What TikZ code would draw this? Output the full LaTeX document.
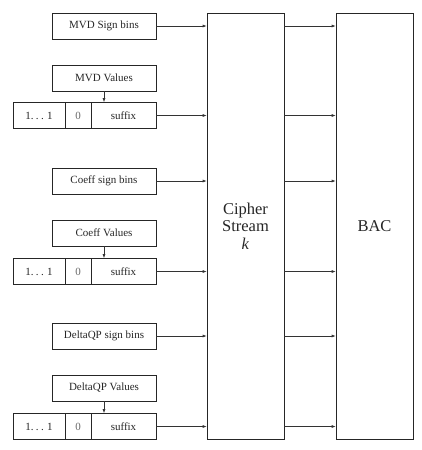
\documentclass[tikz,border=0pt]{standalone}
\usepackage{fontspec}
\setmainfont{Liberation Serif}
\usetikzlibrary{arrows.meta}
\newcommand{\onesdots}{1.\hspace{0.22em}.\hspace{0.22em}.\hspace{0.3em}1}
\begin{document}
\begin{tikzpicture}[x=1pt,y=-1pt,
  line width=0.6pt,
  lbox/.style={draw=black!85, rectangle, inner sep=0pt, minimum width=104pt, minimum height=26pt,
     font=\rmfamily\fontsize{11}{13}\selectfont, text=black!85},
  cell/.style={draw=black!85, rectangle, inner sep=0pt, minimum height=26pt,
     font=\rmfamily\fontsize{11}{13}\selectfont, text=black!85},
  big/.style={draw=black!85, rectangle, inner sep=0pt, minimum height=426pt,
     font=\rmfamily\fontsize{16.5}{17.5}\selectfont, align=center, text=black!85},
  arr/.style={draw=black!80, line width=0.6pt, -{Latex[length=4pt,width=3pt]}}]
\useasboundingbox (0,0) rectangle (421,450);

% big blocks
\node[big, minimum width=77pt] (cs) at (245.5,226) {Cipher\\Stream\\\textit{k}};
\node[big, minimum width=77pt] (bac) at (374.5,226) {BAC};

% MVD
\node[lbox] (msign) at (104,26) {MVD Sign bins};
\node[lbox] (mval) at (104,78) {MVD Values};
\node[cell, minimum width=52pt] (mr1) at (39,115.5) {\onesdots};
\node[cell, minimum width=26pt, text=black!60] (mr2) at (78,115.5) {0};
\node[cell, minimum width=65pt] (mr3) at (123.5,115.5) {suffix};

% Coeff
\node[lbox] (csign) at (104,181) {Coeff sign bins};
\node[lbox] (cval) at (104,233) {Coeff Values};
\node[cell, minimum width=52pt] (cr1) at (39,271.5) {\onesdots};
\node[cell, minimum width=26pt, text=black!60] (cr2) at (78,271.5) {0};
\node[cell, minimum width=65pt] (cr3) at (123.5,271.5) {suffix};

% DeltaQP
\node[lbox] (dsign) at (104,336) {DeltaQP sign bins};
\node[lbox] (dval) at (104,388) {DeltaQP Values};
\node[cell, minimum width=52pt] (dr1) at (39,426.5) {\onesdots};
\node[cell, minimum width=26pt, text=black!60] (dr2) at (78,426.5) {0};
\node[cell, minimum width=65pt] (dr3) at (123.5,426.5) {suffix};

% value -> binarization arrows
\draw[arr] (mval.south) -- (mval.south |- mr3.north);
\draw[arr] (cval.south) -- (cval.south |- cr3.north);
\draw[arr] (dval.south) -- (dval.south |- dr3.north);

% inputs to cipher, cipher to BAC
\foreach \s in {msign,mr3,csign,cr3,dsign,dr3}{
  \draw[arr] (\s.east) -- (\s.east -| cs.west);
  \draw[arr] (\s.east -| cs.east) -- (\s.east -| bac.west);
}
\end{tikzpicture}
\end{document}
